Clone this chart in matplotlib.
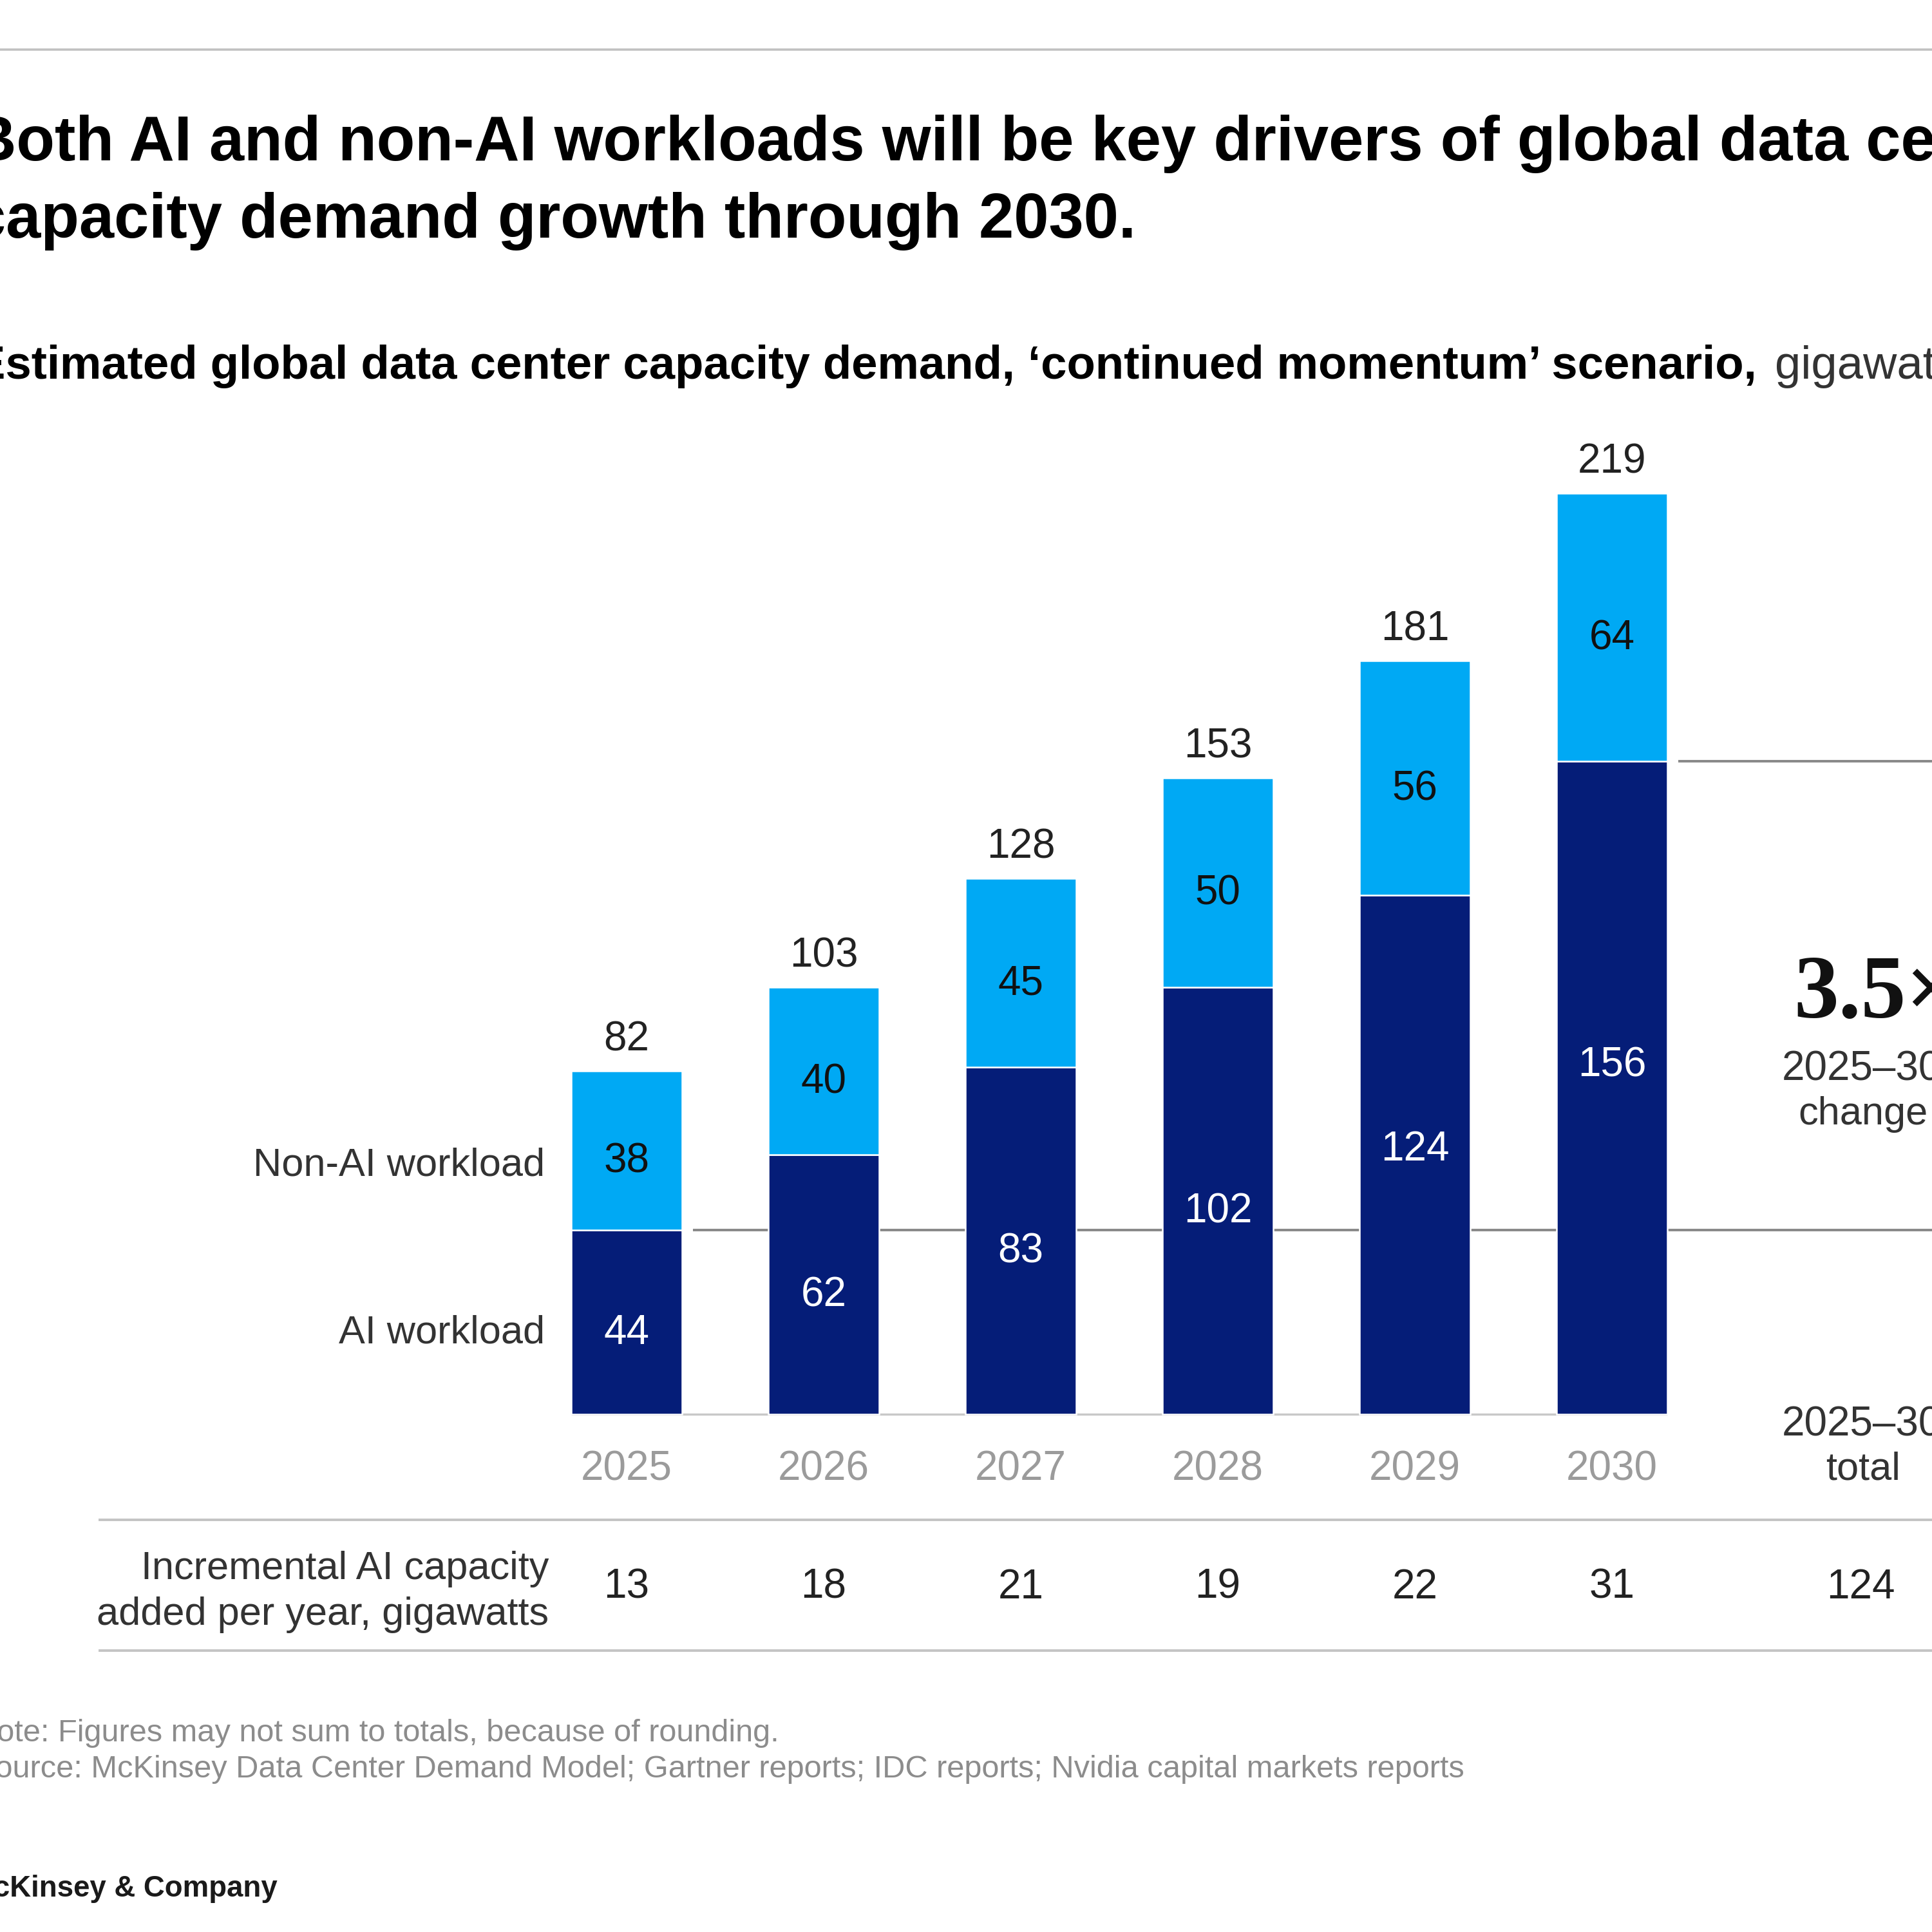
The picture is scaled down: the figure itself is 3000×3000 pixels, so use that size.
import matplotlib
matplotlib.use("Agg")
import matplotlib.pyplot as plt
from matplotlib.lines import Line2D
from matplotlib.transforms import blended_transform_factory

# ---------------- data ----------------
years = ["2025", "2026", "2027", "2028", "2029", "2030"]
ai_workload = [44, 62, 83, 102, 124, 156]
non_ai_workload = [38, 40, 45, 50, 56, 64]
totals = [82, 103, 128, 153, 181, 219]
incremental_ai = [13, 18, 21, 19, 22, 31]
incremental_total = 124
change_factor = "3.5×"

title_lines = ["Both AI and non-AI workloads will be key drivers of global data center",
               "capacity demand growth through 2030."]
subtitle_bold = "Estimated global data center capacity demand, \u2018continued momentum\u2019 scenario,"
subtitle_unit = "gigawatts"
note_text = "Note: Figures may not sum to totals, because of rounding."
source_text = "Source: McKinsey Data Center Demand Model; Gartner reports; IDC reports; Nvidia capital markets reports"
brand_text = "McKinsey & Company"

# ---------------- style ----------------
NAVY = "#051D78"
LIGHT = "#00A9F4"
SANS = ["Liberation Sans", "DejaVu Sans"]
SERIF = ["Liberation Serif", "DejaVu Serif"]
plt.rcParams["font.family"] = SANS

W = H = 3000
fig = plt.figure(figsize=(10, 10), dpi=300)
fig.patch.set_facecolor("white")
ax = fig.add_axes([0, 0, 1, 1])
X0PX, PXX, BASEPX, PXY = 973.0, 306.0, 2196.0, 6.5
ax.set_xlim(-X0PX / PXX, (W - X0PX) / PXX)
ax.set_ylim(-(H - BASEPX) / PXY, BASEPX / PXY)
ax.axis("off")

def fx(px):
    return px / W

def fy(py):
    return 1 - py / H

renderer = fig.canvas.get_renderer()

def fit(t, target_w):
    w = t.get_window_extent(renderer).width
    t.set_fontsize(t.get_fontsize() * target_w / w)
    return t.get_fontsize()

FS = 15.3       # numbers
FST = 14.7      # word labels
bw = 0.565
x = list(range(len(years)))
ai_label_nudge = [0, 0, 0, 0, 6, 12.5]   # points, label placement tweaks

# ---------------- bars ----------------
ax.bar(x, ai_workload, width=bw, color=NAVY, edgecolor="white", linewidth=0.6, zorder=3)
ax.bar(x, non_ai_workload, width=bw, bottom=ai_workload, color=LIGHT,
       edgecolor="white", linewidth=0.6, zorder=3)

# baseline
ax.plot([x[0] - bw / 2, x[-1] + bw / 2], [0, 0], color="#c8c8c8", lw=0.8, zorder=2,
        solid_capstyle="butt")
# reference lines for the change bracket
xr = ax.get_xlim()[1]
ax.plot([x[0] + bw / 2 + 0.055, xr], [ai_workload[0]] * 2, color="#8a8a8a", lw=0.95, zorder=1,
        solid_capstyle="butt")
ax.plot([x[-1] + bw / 2 + 0.053, xr], [ai_workload[-1]] * 2, color="#8a8a8a", lw=0.95, zorder=1,
        solid_capstyle="butt")

for i in x:
    ax.annotate(str(ai_workload[i]), xy=(i, ai_workload[i] / 2), xytext=(0, -8.2 + ai_label_nudge[i]),
                textcoords="offset points", ha="center", va="baseline",
                color="white", fontsize=FS, zorder=5)
    ax.annotate(str(non_ai_workload[i]), xy=(i, ai_workload[i] + non_ai_workload[i] / 2),
                xytext=(0, -8.2), textcoords="offset points", ha="center", va="baseline",
                color="#111111", fontsize=FS, zorder=5)
    ax.annotate(str(totals[i]), xy=(i, ai_workload[i] + non_ai_workload[i]), xytext=(0, 7.6),
                textcoords="offset points", ha="center", va="baseline",
                color="#222222", fontsize=FS, zorder=5)
    ax.annotate(years[i], xy=(i, 0), xytext=(0, -24.5), textcoords="offset points",
                ha="center", va="baseline", color="#9b9b9b", fontsize=FS)

# series labels
fig.text(fx(846), fy(1826), "Non-AI workload", ha="right", va="baseline", color="#333333", fontsize=FST)
fig.text(fx(846), fy(2086), "AI workload", ha="right", va="baseline", color="#333333", fontsize=FST)

# right column
fig.text(fx(2785), fy(1580), change_factor, ha="left", va="baseline", color="#111111",
         fontsize=33.5, family=SERIF, weight="bold")
fig.text(fx(2891), fy(1677), "2025\u201330", ha="center", va="baseline", color="#333333", fontsize=FS)
fig.text(fx(2893), fy(1746), "change", ha="center", va="baseline", color="#333333", fontsize=FST)
fig.text(fx(2891), fy(2230), "2025\u201330", ha="center", va="baseline", color="#333333", fontsize=FS)
fig.text(fx(2893), fy(2298), "total", ha="center", va="baseline", color="#333333", fontsize=FST)

# incremental row
fig.add_artist(Line2D([fx(155), 1], [fy(2360)] * 2, color="#c4c4c4", lw=0.95))
fig.add_artist(Line2D([fx(155), 1], [fy(2563)] * 2, color="#c4c4c4", lw=0.95))
fig.text(fx(852), fy(2452), "Incremental AI capacity", ha="right", va="baseline", color="#333333", fontsize=FST)
fig.text(fx(852), fy(2523), "added per year, gigawatts", ha="right", va="baseline", color="#333333", fontsize=FST)
bt = blended_transform_factory(ax.transData, fig.transFigure)
for i in x:
    ax.text(i, fy(2482), str(incremental_ai[i]), transform=bt, ha="center", va="baseline",
            color="#222222", fontsize=FS)
fig.text(fx(2889), fy(2482), str(incremental_total), ha="center", va="baseline",
         color="#222222", fontsize=FS)

# top rule
fig.add_artist(Line2D([0, 1], [fy(77)] * 2, color="#c0c0c0", lw=0.85))

# title
LEFT = -45
t1 = fig.text(fx(LEFT), fy(249), title_lines[0], ha="left", va="baseline", color="#000000",
              fontsize=22, weight="bold")
t2 = fig.text(fx(LEFT), fy(369), title_lines[1], ha="left", va="baseline", color="#000000",
              fontsize=22, weight="bold")
tfs = fit(t2, 1764 - LEFT)
t1.set_fontsize(tfs)

# subtitle
s1 = fig.text(fx(-40), fy(588), subtitle_bold, ha="left", va="baseline", color="#000000",
              fontsize=15, weight="bold")
sfs = fit(s1, 2730 + 40)
fig.text(fx(2756), fy(588), subtitle_unit, ha="left", va="baseline", color="#333333", fontsize=sfs)

# notes
src = fig.text(fx(-40), fy(2760), source_text, ha="left", va="baseline", color="#8c8c8c", fontsize=11)
nfs = fit(src, 2277 + 40)
fig.text(fx(-40), fy(2704), note_text, ha="left", va="baseline", color="#8c8c8c", fontsize=nfs)

br = fig.text(fx(-48), fy(2945), brand_text, ha="left", va="baseline", color="#1a1a1a",
              fontsize=12, weight="bold")
fit(br, 432 + 48)

fig.savefig("out.png", dpi=300, facecolor="white")
